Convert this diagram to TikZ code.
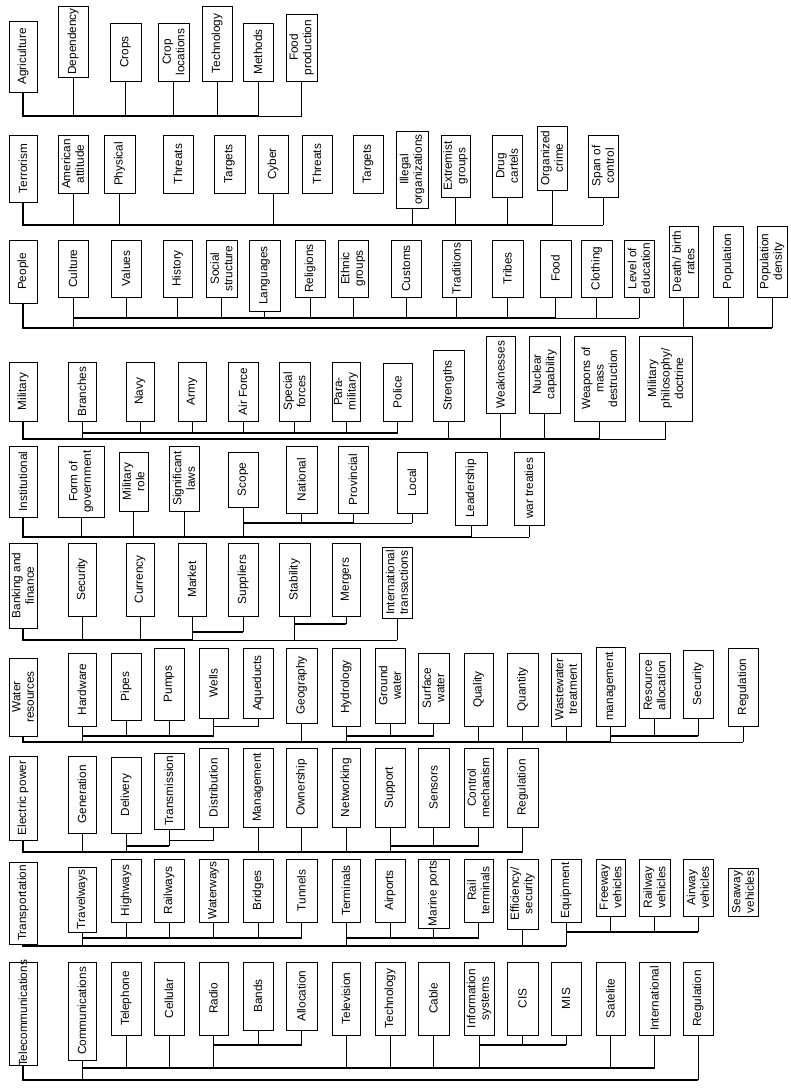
\documentclass[tikz,border=0pt]{standalone}
\usepackage{fontspec}
\setmainfont{Liberation Sans}
\begin{document}
\begin{tikzpicture}[x=1pt,y=-1pt,
  boxst/.style={draw, line width=0.9pt, inner sep=0pt, outer sep=0pt},
  txt/.style={rotate=90, align=center, inner sep=0pt, font=\fontsize{11.8}{13.5}\selectfont},
  stem/.style={line width=0.8pt},
  bus/.style={line width=1.6pt, line join=miter},
  midbus/.style={line width=1.2pt}]
\useasboundingbox (0,0) rectangle (791,1089);
\newcommand{\bx}[6]{\node[boxst, minimum width={(#4-#2)*1pt}, minimum height={(#5-#3)*1pt}] (#1) at ({(#2+#4)/2},{(#3+#5)/2}) {}; \node[txt] (#1t) at (#1.center) {#6};}
\newcommand{\stm}[2]{\draw[stem] (#1.south) -- (#1.south |- #2);}
% ---------- Agriculture
\bx{agr}{9}{21}{37}{92}{Agriculture}
\bx{dep}{58}{6}{88}{77}{Dependency}
\bx{crp}{110}{23}{141}{81}{Crops}
\bx{crl}{158}{23}{189}{81}{Crop\\locations}
\bx{tec}{202}{6}{232}{81}{Technology}
\bx{met}{243}{23}{273}{81}{Methods}
\bx{fdp}{286}{14}{317}{81}{Food\\production}
\coordinate (aB) at (0,116);
\draw[bus] (agr.south) |- (met.south |- aB);
\draw[stem] (met.south |- aB) -- (fdp.south |- aB);
\foreach \n in {dep,crp,crl,tec,met,fdp} {\stm{\n}{aB}}
% ---------- Terrorism
\bx{ter}{9}{135}{37}{202}{Terrorism}
\bx{ama}{58}{135}{88}{193}{American\\attitude}
\bx{phy}{104}{135}{135}{193}{Physical}
\bx{thA}{163}{135}{193}{193}{Threats}
\bx{taA}{214}{135}{245}{193}{Targets}
\bx{cyb}{258}{135}{288}{193}{Cyber}
\bx{thB}{302}{135}{332}{193}{Threats}
\bx{taB}{353}{135}{383}{193}{Targets}
\bx{ill}{396}{131}{428}{208}{Illegal\\organizations}
\bx{ext}{441}{135}{470}{197}{Extremist\\groups}
\bx{drg}{492}{135}{522}{197}{Drug\\cartels}
\bx{org}{537}{126}{567}{190}{Organized\\crime}
\bx{spc}{588}{135}{618}{197}{Span of\\control}
\coordinate (tB) at (0,225);
\draw[bus] (ter.south) |- (org.south |- tB);
\draw[stem] (org.south |- tB) -- (spc.south |- tB);
\foreach \n in {ama,phy,cyb,ill,ext,drg,org,spc} {\stm{\n}{tB}}
% ---------- People
\bx{peo}{9}{240}{37}{303}{People}
\bx{cul}{58}{240}{88}{297}{Culture}
\bx{val}{111}{240}{141}{297}{Values}
\bx{his}{163}{240}{192}{297}{History}
\bx{soc}{206}{240}{237}{297}{Social\\structure}
\bx{lan}{249}{240}{280}{311}{Languages}
\bx{rel}{295}{240}{325}{297}{Religions}
\bx{eth}{338}{240}{368}{297}{Ethnic\\groups}
\bx{cus}{391}{240}{421}{297}{Customs}
\bx{tra}{442}{240}{471}{297}{Traditions}
\bx{tri}{492}{240}{523}{297}{Tribes}
\bx{foo}{540}{240}{571}{297}{Food}
\bx{clo}{581}{240}{612}{297}{Clothing}
\bx{loe}{624}{240}{654}{297}{Level of\\education}
\bx{dbr}{669}{226}{698}{297}{Death/ birth\\rates}
\bx{pop}{713}{226}{743}{297}{Population}
\bx{pod}{757}{226}{787}{297}{Population\\density}
\coordinate (pI) at (0,318);
\coordinate (pO) at (0,328);
\draw[bus] (cul.south |- pI) -- (foo.south |- pI);
\draw[stem] (foo.south |- pI) -- (loe.south |- pI);
\foreach \n in {val,his,soc,lan,rel,eth,cus,tra,tri,foo,clo,loe} {\stm{\n}{pI}}
\draw[bus] (peo.south) |- (pod.south |- pO);
\foreach \n in {cul,dbr,pop,pod} {\stm{\n}{pO}}
% ---------- Military
\bx{mil}{9}{362}{37}{421}{Military}
\bx{bra}{68}{362}{96}{421}{Branches}
\bx{nav}{126}{362}{154}{421}{Navy}
\bx{arm}{178}{362}{206}{421}{Army}
\bx{afo}{228}{362}{258}{421}{Air Force}
\bx{spf}{279}{362}{310}{421}{Special\\forces}
\bx{pmi}{332}{362}{360}{421}{Para-\\military}
\bx{pol}{383}{363}{412}{421}{Police}
\bx{str}{433}{350}{464}{421}{Strengths}
\bx{wea}{486}{336}{515}{413}{Weaknesses}
\bx{nuc}{529}{336}{560}{413}{Nuclear\\capability}
\bx{wmd}{574}{336}{625}{421}{Weapons of\\mass\\destruction}
\bx{mpd}{639}{336}{692}{421}{Military\\philosophy/\\doctrine}
\coordinate (mI) at (0,433);
\coordinate (mO) at (0,439);
\draw[bus] (bra.south |- mI) -- (pol.south |- mI);
\foreach \n in {nav,arm,afo,spf,pmi,pol} {\stm{\n}{mI}}
\draw[bus] (mil.south) |- (wmd.south |- mO);
\draw[stem] (wmd.south |- mO) -- (mpd.south |- mO);
\foreach \n in {bra,str,wea,nuc,wmd,mpd} {\stm{\n}{mO}}
% ---------- Institutional
\bx{ins}{9}{446}{37}{517}{Institutional}
\bx{fog}{58}{446}{104}{517}{Form of\\government}
\bx{mro}{119}{452}{148}{511}{Military\\role}
\bx{sla}{169}{446}{199}{511}{Significant\\laws}
\bx{sco}{228}{452}{258}{507}{Scope}
\bx{nat}{286}{446}{317}{513}{National}
\bx{pro}{338}{446}{368}{513}{Provincial}
\bx{loc}{397}{452}{427}{513}{Local}
\bx{lea}{455}{452}{487}{525}{Leadership}
\bx{wtr}{514}{452}{544}{525}{war treaties}
\coordinate (iI) at (0,523);
\coordinate (iO) at (0,537);
\draw[bus] (sco.south |- iI) -- (pro.south |- iI);
\draw[stem] (pro.south |- iI) -- (loc.south |- iI);
\foreach \n in {nat,pro,loc} {\stm{\n}{iI}}
\draw[bus] (ins.south) |- (lea.south |- iO);
\draw[stem] (lea.south |- iO) -- (wtr.south |- iO);
\foreach \n in {fog,mro,sla,sco,lea,wtr} {\stm{\n}{iO}}
% ---------- Banking and finance
\bx{ban}{9}{543}{37}{628}{Banking and\\finance}
\bx{sec}{68}{543}{96}{616}{Security}
\bx{cur}{126}{543}{154}{616}{Currency}
\bx{mar}{178}{543}{206}{616}{Market}
\bx{sup}{228}{543}{258}{616}{Suppliers}
\bx{sta}{279}{543}{310}{616}{Stability}
\bx{mer}{332}{543}{360}{616}{Mergers}
\bx{itr}{382}{547}{412}{618}{International\\transactions}
\coordinate (bM) at (0,632);
\coordinate (bS) at (0,624);
\coordinate (bO) at (0,640);
\draw[midbus] (mar.south |- bM) -- (sup.south |- bM);
\stm{sup}{bM}
\draw[midbus] (sta.south |- bS) -- (mer.south |- bS);
\stm{mer}{bS}
\draw[bus] (ban.south) |- (mar.south |- bO);
\draw[stem] (mar.south |- bO) -- (itr.south |- bO);
\foreach \n in {sec,cur,mar,sta,itr} {\stm{\n}{bO}}
% ---------- Water resources
\bx{wat}{9}{658}{37}{736}{Water\\resources}
\bx{hdw}{68}{653}{96}{726}{Hardware}
\bx{pip}{111}{653}{141}{720}{Pipes}
\bx{pum}{154}{648}{184}{720}{Pumps}
\bx{wel}{199}{648}{228}{718}{Wells}
\bx{aqu}{243}{648}{273}{718}{Aqueducts}
\bx{geo}{286}{648}{317}{723}{Geography}
\bx{hyd}{332}{648}{360}{726}{Hydrology}
\bx{grw}{375}{648}{405}{723}{Ground\\water}
\bx{suw}{418}{653}{449}{723}{Surface\\water}
\bx{qua}{464}{653}{493}{726}{Quality}
\bx{qty}{507}{653}{538}{726}{Quantity}
\bx{wwt}{551}{653}{581}{726}{Wastewater\\treatment}
\bx{man}{596}{647}{625}{726}{management}
\bx{rea}{639}{653}{670}{718}{Resource\\allocation}
\bx{wsc}{683}{650}{713}{718}{Security}
\bx{wre}{728}{648}{758}{726}{Regulation}
\coordinate (wI) at (0,736);
\coordinate (wA) at (0,726);
\coordinate (wO) at (0,742);
\draw[midbus] (hdw.south |- wI) -- (wel.south |- wI);
\foreach \n in {pip,pum,wel} {\stm{\n}{wI}}
\draw[stem] (aqu.south) |- (wel.south |- wA);
\draw[midbus] (hyd.south |- wI) -- (suw.south |- wI);
\foreach \n in {grw,suw} {\stm{\n}{wI}}
\draw[midbus] (man.south |- wI) -- (wsc.south |- wI);
\foreach \n in {rea,wsc} {\stm{\n}{wI}}
\draw[bus] (wat.south) |- (man.south |- wO);
\draw[stem] (man.south |- wO) -- (wre.south |- wO);
\foreach \n in {hdw,geo,hyd,qua,qty,wwt,man,wre} {\stm{\n}{wO}}
% ---------- Electric power
\bx{ele}{9}{756}{37}{840}{Electric power}
\bx{gen}{68}{756}{96}{833}{Generation}
\bx{dlv}{111}{757}{141}{833}{Delivery}
\bx{trm}{154}{753}{184}{829}{Transmission}
\bx{dis}{199}{748}{228}{827}{Distribution}
\bx{emg}{243}{748}{273}{827}{Management}
\bx{own}{286}{748}{317}{827}{Ownership}
\bx{net}{332}{748}{360}{827}{Networking}
\bx{spt}{375}{748}{405}{827}{Support}
\bx{sen}{418}{748}{449}{827}{Sensors}
\bx{con}{464}{748}{493}{827}{Control\\mechanism}
\bx{ere}{507}{748}{538}{827}{Regulation}
\coordinate (eI) at (0,846);
\coordinate (eD) at (0,840);
\coordinate (eO) at (0,852);
\draw[midbus] (dlv.south |- eI) -- (trm.south |- eI);
\stm{trm}{eI}
\draw[stem] (dis.south) |- (trm.south |- eD);
\draw[midbus] (spt.south |- eI) -- (con.south |- eI);
\foreach \n in {sen,con} {\stm{\n}{eI}}
\draw[bus] (ele.south) |- (ere.south |- eO);
\foreach \n in {gen,dlv,emg,own,net,spt,ere} {\stm{\n}{eO}}
% ---------- Transportation
\bx{trn}{9}{862}{37}{944}{Transportation}
\bx{tvw}{68}{867}{96}{932}{Travelways}
\bx{hwy}{111}{859}{141}{922}{Highways}
\bx{rwy}{154}{859}{184}{922}{Railways}
\bx{wwy}{199}{859}{228}{922}{Waterways}
\bx{brd}{243}{859}{273}{922}{Bridges}
\bx{tun}{286}{859}{317}{922}{Tunnels}
\bx{tml}{332}{859}{360}{922}{Terminals}
\bx{apt}{375}{859}{405}{922}{Airports}
\bx{mpt}{418}{859}{449}{928}{Marine ports}
\bx{rtm}{464}{859}{493}{922}{Rail\\terminals}
\bx{efs}{507}{859}{538}{929}{Efficiency/\\security}
\bx{eqp}{551}{859}{581}{922}{Equipment}
\bx{fwv}{596}{859}{625}{916}{Freeway\\vehicles}
\bx{rwv}{639}{859}{670}{916}{Railway\\vehicles}
\bx{awv}{683}{859}{713}{916}{Airway\\vehicles}
\bx{swv}{728}{868}{758}{916}{Seaway\\vehicles}
\coordinate (rI) at (0,938);
\coordinate (rE) at (0,932);
\coordinate (rO) at (0,946);
\draw[midbus] (tvw.south |- rI) -- (tun.south |- rI);
\foreach \n in {hwy,rwy,wwy,brd,tun} {\stm{\n}{rI}}
\draw[midbus] (tml.south |- rI) -- (rtm.south |- rI);
\foreach \n in {apt,mpt,rtm} {\stm{\n}{rI}}
\draw[midbus] (eqp.south |- rE) -- (awv.south |- rE);
\foreach \n in {fwv,rwv,awv} {\stm{\n}{rE}}
\draw[bus] (trn.south) |- (eqp.south |- rO);
\foreach \n in {tvw,tml,efs,eqp} {\stm{\n}{rO}}
% ---------- Telecommunications
\bx{tel}{9}{962}{37}{1065}{Telecommunications}
\bx{com}{68}{962}{96}{1060}{Communications}
\bx{tph}{111}{962}{141}{1035}{Telephone}
\bx{cel}{154}{962}{184}{1035}{Cellular}
\bx{rad}{199}{962}{228}{1035}{Radio}
\bx{bnd}{243}{962}{273}{1030}{Bands}
\bx{alc}{286}{962}{317}{1030}{Allocation}
\bx{tvs}{332}{962}{360}{1035}{Television}
\bx{tch}{375}{962}{405}{1035}{Technology}
\bx{cab}{418}{962}{449}{1035}{Cable}
\bx{ifs}{464}{962}{494}{1035}{Information\\systems}
\bx{cis}{507}{962}{538}{1035}{CIS}
\bx{mis}{551}{962}{581}{1035}{MIS}
\bx{sat}{596}{962}{625}{1035}{Satelite}
\bx{itn}{639}{962}{670}{1035}{International}
\bx{tre}{683}{962}{713}{1035}{Regulation}
\coordinate (cR) at (0,1045);
\coordinate (cI) at (0,1068);
\coordinate (cO) at (0,1080);
\draw[midbus] (rad.south |- cR) -- (alc.south |- cR);
\foreach \n in {bnd,alc} {\stm{\n}{cR}}
\draw[midbus] (ifs.south |- cR) -- (mis.south |- cR);
\foreach \n in {cis,mis} {\stm{\n}{cR}}
\draw[midbus] (com.south |- cI) -- (itn.south |- cI);
\foreach \n in {tph,cel,rad,tvs,tch,cab,ifs,sat,itn} {\stm{\n}{cI}}
\draw[bus] (tel.south) |- (tre.south |- cO);
\foreach \n in {com,tre} {\stm{\n}{cO}}
\end{tikzpicture}
\end{document}
